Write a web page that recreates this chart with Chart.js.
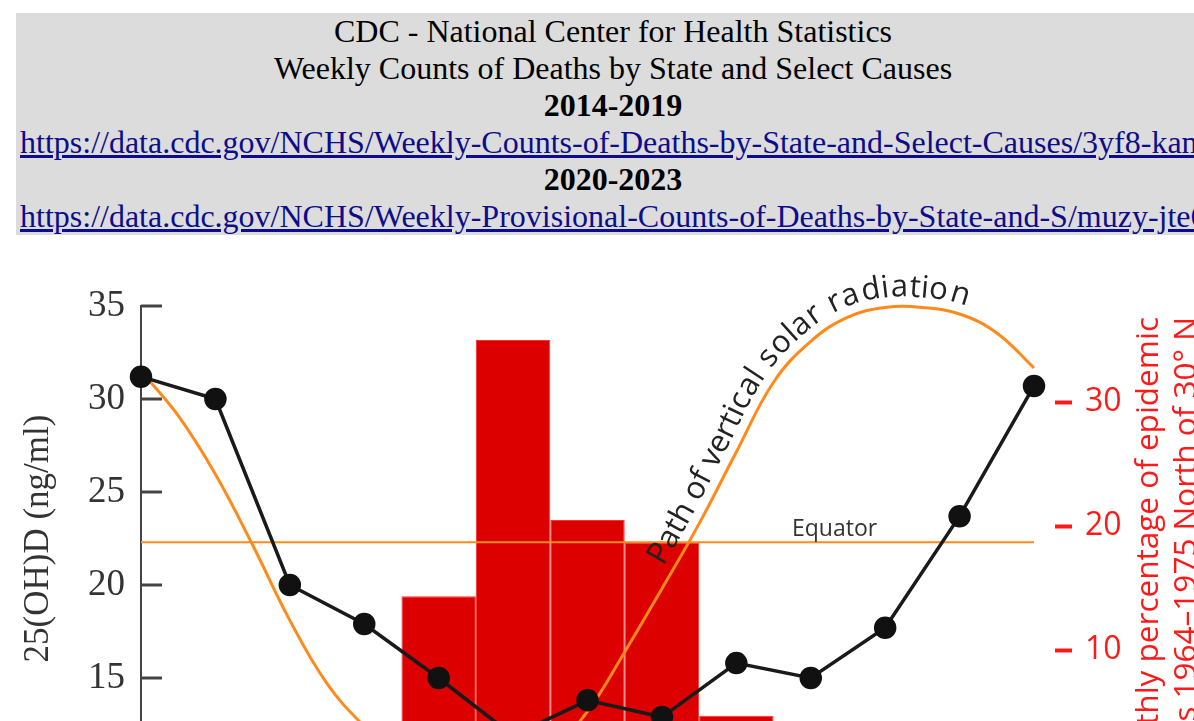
<!DOCTYPE html>
<html>
<head>
<meta charset="utf-8">
<title>Vitamin D and epidemic influenza</title>
<script src="https://cdn.jsdelivr.net/npm/chart.js@4.4.1/dist/chart.umd.min.js"></script>
<style>
html, body { margin: 0; padding: 0; overflow: hidden; background: #fff; }
#hdr {
    position: absolute; left: 16px; top: 13px; width: 1186px; padding: 0 4px;
    background: #dcdcdc; color: #000; text-align: center; white-space: nowrap;
    font-family: "Liberation Serif", serif; font-size: 32px;
}
#hdr a { color: #0d0d8c; }
#grafico { position: absolute; left: 0; top: 250px; }
</style>
</head>
<body>
<div id="hdr">
CDC - National Center for Health Statistics<br>
Weekly Counts of Deaths by State and Select Causes<br>
<b>2014-2019</b><br>
<a href="https://data.cdc.gov/NCHS/Weekly-Counts-of-Deaths-by-State-and-Select-Causes/3yf8-kanr">https://data.cdc.gov/NCHS/Weekly-Counts-of-Deaths-by-State-and-Select-Causes/3yf8-kanr</a><br>
<b>2020-2023</b><br>
<a href="https://data.cdc.gov/NCHS/Weekly-Provisional-Counts-of-Deaths-by-State-and-S/muzy-jte6">https://data.cdc.gov/NCHS/Weekly-Provisional-Counts-of-Deaths-by-State-and-S/muzy-jte6</a>
</div>
<canvas id="grafico" width="1194" height="560"></canvas>
<script>
var months = ['Aug', 'Sep', 'Oct', 'Nov', 'Dec', 'Jan', 'Feb', 'Mar', 'Apr', 'May', 'Jun', 'Jul', 'Aug'];
var vitaminD = [31.2, 30.0, 20.0, 17.9, 15.0, 11.9, 13.8, 12.9, 15.8, 15.0, 17.7, 23.7, 30.7];
var epidemicPct = [0, 0, 0, 0, 14.35, 35.0, 20.5, 18.7, 4.7, 0, 0, 0, 0];
var equatorLat = 22.3;
// curva naranja leida cada medio mes (25 valores)
var solarPath = [31.5, 29.1, 25.95, 22.15, 18.1, 14.7, 12.4, 10.6, 9.6, 9.35, 9.7, 11.0, 13.2, 16.4, 19.8, 23.3,
                 27.15, 30.9, 33.1, 34.4, 34.92, 34.92, 34.57, 33.55, 31.67];
var leftTicks = [10, 15, 20, 25, 30, 35];
var rightTicks = [10, 20, 30];

var orange = '#ff8a1c';
var red = '#ff1a1a';

// eje de medios meses: los valores mensuales van en las posiciones pares
function aMedioMes(arr) {
    var out = [];
    arr.forEach(function(v, i) {
        out.push(v);
        if (i < arr.length - 1) out.push(null);
    });
    return out;
}
var halfLabels = [];
months.forEach(function(m, i) {
    halfLabels.push(m);
    if (i < months.length - 1) halfLabels.push('');
});
var vitaminDHalf = aMedioMes(vitaminD);
var epidemicHalf = aMedioMes(epidemicPct);
var equatorHalf = aMedioMes(months.map(function() { return equatorLat; }));

// puntos de la curva de Chart.js (bezier) para escribir el texto encima
function muestrearCurva(pts) {
    var out = [];
    for (var i = 0; i < pts.length - 1; i++) {
        var a = pts[i], b = pts[i + 1];
        for (var k = 0; k < 40; k++) {
            var t = k / 40, u = 1 - t;
            out.push({
                seg: i,
                x: u*u*u*a.x + 3*u*u*t*a.cp2x + 3*u*t*t*b.cp1x + t*t*t*b.x,
                y: u*u*u*a.y + 3*u*u*t*a.cp2y + 3*u*t*t*b.cp1y + t*t*t*b.y
            });
        }
    }
    var last = pts[pts.length - 1];
    out.push({ seg: pts.length - 1, x: last.x, y: last.y });
    return out;
}

var extras = {
    id: 'extras',
    afterDatasetsDraw: function(chart) {
        var ctx = chart.ctx, area = chart.chartArea;
        var xs = chart.scales.x, ys = chart.scales.y, ys1 = chart.scales.y1;
        ctx.save();

        // marcas cortas hacia dentro en el eje izquierdo
        ctx.strokeStyle = '#444';
        ctx.lineWidth = 3;
        leftTicks.forEach(function(v) {
            var py = ys.getPixelForValue(v);
            ctx.beginPath();
            ctx.moveTo(area.left, py);
            ctx.lineTo(area.left + 21, py);
            ctx.stroke();
        });

        // etiqueta del ecuador
        var step = xs.getPixelForValue(20) - xs.getPixelForValue(18);
        ctx.fillStyle = '#333';
        ctx.font = '23px "Open Sans"';
        ctx.textAlign = 'center';
        ctx.textBaseline = 'alphabetic';
        ctx.fillText('Equator', xs.getPixelForValue(18) + 0.32 * step, ys.getPixelForValue(equatorLat) - 6);

        // titulo del eje derecho (de abajo hacia arriba)
        ctx.save();
        ctx.fillStyle = red;
        ctx.font = '31.5px "Open Sans"';
        ctx.textAlign = 'right';
        ctx.translate(ys1.left + 124, area.top + 11);
        ctx.rotate(-Math.PI / 2);
        ctx.fillText('Monthly percentage of epidemic', 0, 0);
        ctx.fillText('months 1964\u20131975 North of 30\u00b0 N', 0, 38);
        ctx.restore();

        // texto sobre la curva naranja
        var pts = chart.getDatasetMeta(1).data;
        var s = muestrearCurva(pts);
        var cum = [0];
        for (var j = 1; j < s.length; j++) {
            cum.push(cum[j - 1] + Math.hypot(s[j].x - s[j - 1].x, s[j].y - s[j - 1].y));
        }
        var yStart = ys.getPixelForValue(equatorLat) + 30;
        var start = 0;
        for (j = 0; j < s.length; j++) {
            if (s[j].seg >= 12 && s[j].y <= yStart) { start = cum[j]; break; }
        }
        function en(d) {
            var k = 1;
            while (k < cum.length - 1 && cum[k] < d) k++;
            var a = s[k - 1], b = s[k];
            var f = (d - cum[k - 1]) / ((cum[k] - cum[k - 1]) || 1);
            return { x: a.x + (b.x - a.x) * f, y: a.y + (b.y - a.y) * f, ang: Math.atan2(b.y - a.y, b.x - a.x) };
        }
        var texto = 'Path of vertical solar radiation';
        ctx.fillStyle = '#222';
        ctx.font = '31px "Open Sans"';
        ctx.textAlign = 'center';
        var pos = start;
        for (var c = 0; c < texto.length; c++) {
            var w = ctx.measureText(texto[c]).width;
            var p = en(pos + w / 2);
            var off = 10;
            ctx.save();
            ctx.translate(p.x + Math.sin(p.ang) * off, p.y - Math.cos(p.ang) * off);
            ctx.rotate(p.ang);
            ctx.fillText(texto[c], 0, 0);
            ctx.restore();
            pos += w;
        }

        ctx.restore();
    }
};

var ctx = document.getElementById('grafico').getContext('2d');
var grafico = new Chart(ctx, {
    type: 'bar',
    data: {
        labels: halfLabels,
        datasets: [{
            type: 'line',
            data: vitaminDHalf,
            yAxisID: 'y',
            borderColor: '#1a1a1a',
            borderWidth: 3.5,
            pointRadius: 9.5,
            pointBackgroundColor: '#111',
            pointBorderColor: '#111',
            tension: 0,
            spanGaps: true,
            clip: false,
            order: 0
        }, {
            type: 'line',
            data: solarPath,
            yAxisID: 'y',
            borderColor: orange,
            borderWidth: 3,
            pointRadius: 0,
            tension: 0.4,
            capBezierPoints: false,
            clip: false,
            order: 1
        }, {
            type: 'line',
            data: equatorHalf,
            yAxisID: 'y',
            borderColor: orange,
            borderWidth: 2,
            pointRadius: 0,
            tension: 0,
            spanGaps: true,
            clip: false,
            order: 2
        }, {
            data: epidemicHalf,
            yAxisID: 'y1',
            backgroundColor: '#dd0000',
            borderColor: '#ff3030',
            borderWidth: 1,
            // un mes ocupa dos pasos del eje de medios meses
            categoryPercentage: 2,
            barPercentage: 1,
            order: 3
        }]
    },
    options: {
        responsive: false,
        animation: false,
        layout: { padding: { top: 56, bottom: 39, left: 0, right: 0 } },
        plugins: { legend: { display: false }, tooltip: { enabled: false } },
        scales: {
            x: { type: 'category', display: false, offset: false },
            y: {
                position: 'left',
                min: 10,
                max: 35,
                afterBuildTicks: function(scale) {
                    scale.ticks = leftTicks.map(function(v) { return { value: v }; });
                },
                afterFit: function(scale) { scale.width = 141; },
                grid: { display: false, drawTicks: false },
                border: { display: true, color: '#444', width: 2 },
                ticks: { color: '#333', padding: 16, font: { family: 'Liberation Serif', size: 37 } },
                title: {
                    display: true,
                    text: '25(OH)D (ng/ml)',
                    color: '#333',
                    font: { family: 'Liberation Serif', size: 35 },
                    padding: { top: 18, bottom: 0 }
                }
            },
            y1: {
                position: 'right',
                min: 0.25,
                max: 37.75,
                afterBuildTicks: function(scale) {
                    scale.ticks = rightTicks.map(function(v) { return { value: v }; });
                },
                afterFit: function(scale) { scale.width = 160; },
                border: { display: false },
                grid: {
                    drawOnChartArea: false,
                    drawTicks: true,
                    tickLength: 38,
                    tickWidth: 4,
                    tickColor: red,
                    tickBorderDash: [0, 21, 17, 100]
                },
                ticks: { color: red, padding: 13, font: { family: 'Open Sans', size: 32 } }
            }
        }
    },
    plugins: [extras]
});
</script>
</body>
</html>
